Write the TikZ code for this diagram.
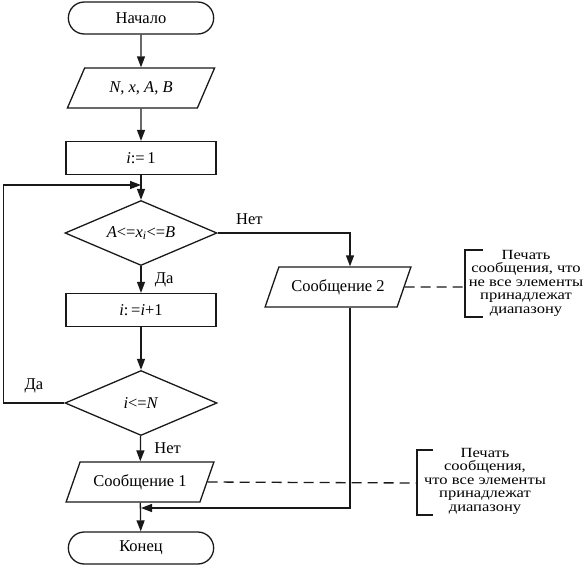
\documentclass[tikz,border=0pt]{standalone}
\usepackage{fontspec}
\setmainfont{Liberation Serif}
\usetikzlibrary{shapes.geometric,shapes.misc,arrows.meta}

\begin{document}
\begin{tikzpicture}[x=1pt,y=-1pt,
  line/.style={line width=1.3pt,draw=black!90},
  flow/.style={line,-{Triangle[length=11pt,width=8pt]}},
  terminal/.style={line,rounded rectangle,minimum width=152pt,minimum height=32pt,
                   font=\fontsize{16.5}{18}\selectfont},
  process/.style={line,rectangle,minimum width=150pt,minimum height=33pt,
                  font=\fontsize{16.5}{18}\selectfont},
  io/.style={line,trapezium,trapezium left angle=62,trapezium right angle=118,
             trapezium stretches=true,minimum width=148pt,minimum height=40pt,
             font=\fontsize{16.5}{18}\selectfont},
  decision/.style={line,diamond,aspect=2.3,inner sep=0pt,minimum width=152pt,
                   minimum height=65pt,font=\fontsize{16.5}{18}\selectfont},
  label/.style={font=\fontsize{16.5}{18}\selectfont},
  note/.style={align=center,inner sep=0pt,xscale=1.18,
               font=\fontsize{14}{13.5}\selectfont},
  annot/.style={line,dash pattern=on 10pt off 6pt},
]
\useasboundingbox (0,0) rectangle (586,571);

% Main column
\node[terminal] (start) at (141,18) {Начало};
\node[io] (input) at (141,88) {\textit{N}, \textit{x}, \textit{A}, \textit{B}};
\node[process] (init) at (141,158) {\textit{i}:=\,1};
\node[decision] (check) at (141,233)
  {\textit{A}<=\textit{x}\textsubscript{\textit{i}}<=\textit{B}};
\node[process] (inc) at (141,310) {\textit{i}:\,=\textit{i}+1};
\node[decision] (last) at (141,403) {\textit{i}<=\textit{N}};
\node[io] (msg1) at (140,482) {Сообщение 1};
\node[terminal] (end) at (141,548) {Конец};

% Side branch
\node[io,minimum width=146pt] (msg2) at (338,287) {Сообщение 2};

% Junction points
\coordinate (loop) at (141,185);
\coordinate (join) at (141,508);
\coordinate (br2) at (465,287);
\coordinate (br1) at (417,483);

% Arrows
\draw[flow] (start) -- (input);
\draw[flow] (input) -- (init);
\draw[flow] (init) -- (check);
\draw[flow] (check) -- node[label,right=10pt] {Да} (inc);
\draw[flow] (inc) -- (last);
\draw[flow] (last) -- node[label,right=10pt] {Нет} (msg1);
\draw[flow] (msg1) -- (end);
\draw[flow] (last.west) -- node[label,above=6pt] {Да} ++(-61,0) |- (loop);
\draw[flow] (check.east) -| node[label,pos=0.12,above=4pt] {Нет} ([xshift=12pt]msg2.north);
\draw[flow] ([xshift=12pt]msg2.south) |- (join);

% Comments
\draw[annot] (msg2.east) -- (br2);
\draw[line] (483,250) -| (465,317) -- (483,317);
\node[note] (note2) at (526,283)
  {Печать\\сообщения, что\\не все элементы\\принадлежат\\диапазону};

\draw[annot] (msg1.east) -- (br1);
\draw[line] (433,450) -| (417,515) -- (433,515);
\node[note] (note1) at (485,481)
  {Печать\\сообщения,\\что все элементы\\принадлежат\\диапазону};

\end{tikzpicture}
\end{document}
